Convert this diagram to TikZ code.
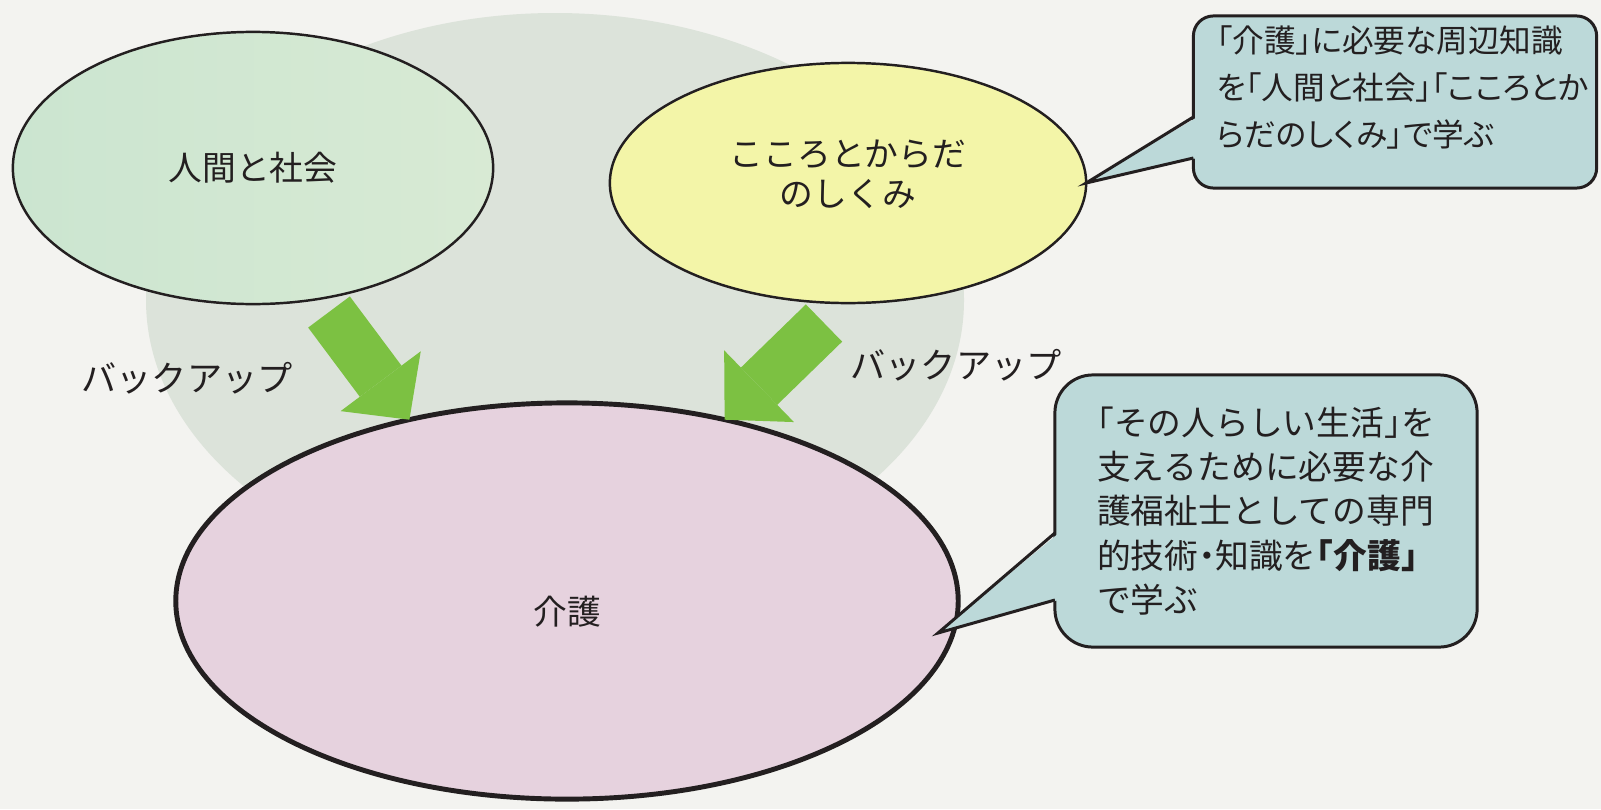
\documentclass[tikz,border=0pt]{standalone}
\usepackage{fontspec}
\newfontfamily\jpfont{Noto Sans CJK JP}
\newfontfamily\jpnote{Noto Sans CJK JP}[RawFeature=+halt]
\newfontfamily\jpprop{Noto Sans CJK JP}[RawFeature=+palt]
\usetikzlibrary{arrows.meta,shapes.geometric,positioning}

\definecolor{paper}{HTML}{F3F3F0}
\definecolor{backdrop}{HTML}{DCE3DA}
\definecolor{ink}{HTML}{231F20}
\definecolor{societyL}{HTML}{CBE5D0}
\definecolor{societyM}{HTML}{B7D9D1}
\definecolor{societyR}{HTML}{D8EAD4}
\definecolor{mindfill}{HTML}{F3F5A8}
\definecolor{carefill}{HTML}{E6D2DE}
\definecolor{notefill}{HTML}{BCD9D9}
\definecolor{leafgreen}{HTML}{7CC142}

\begin{document}
\begin{tikzpicture}[x=0.01cm,y=-0.01cm,
    topic/.style={ellipse,draw=ink,line width=0.7pt,inner sep=0pt,outer sep=0pt,
      align=center,text=ink,font=\jpfont\fontsize{9.6pt}{11.2pt}\selectfont},
    note/.style={rectangle,draw=ink,line width=0.85pt,fill=notefill,align=left,
      inner sep=0pt,outer sep=0pt,text=ink},
    pointer/.style={draw=ink,line width=0.85pt,line join=miter},
    backup/.style={draw=leafgreen,line width=0.52cm,
      -{Triangle[length=0.48cm,width=1cm,line width=0pt]}},
    tag/.style={text=ink,font=\jpfont\fontsize{10pt}{12pt}\selectfont}]
  \useasboundingbox (0,0) rectangle (1601,809);
  % paper and grey backdrop
  \fill[paper] (0,0) rectangle (1601,809);
  \fill[backdrop] (555,300) ellipse [x radius=409, y radius=287];

  \node[topic,shade,left color=societyL,middle color=societyM,right color=societyR,
    minimum width=4.8cm,minimum height=2.72cm] (society) at (253,168) {人間と社会};
  \node[topic,fill=mindfill,minimum width=4.76cm,minimum height=2.4cm,
    text depth=0.2cm] (mind) at (848,183) {こころとからだ\\のしくみ};
  \node[topic,fill=carefill,line width=1.4pt,minimum width=7.82cm,minimum height=3.96cm,
    text height=0.5cm] (care) at (567,601) {介護};

  % backup arrows
  \coordinate (tailL) at (329,312);
  \coordinate (tailR) at (824,323);
  \draw[backup] (tailL) -- (care.131);
  \draw[backup] (tailR) -- (care.49);
  \node[tag] (backupL) at (187,378) {バックアップ};
  \node[tag] (backupR) at (956,365) {バックアップ};

  % notes
  \node[note,minimum width=4.03cm,minimum height=1.72cm,rounded corners=0.2cm]
    (noteA) at (1395,102) {};
  \node[anchor=north west,align=left,inner sep=0pt,text=ink,
    font=\jpprop\fontsize{9pt}{13.4pt}\selectfont] (noteAtext) at (1216,25)
    {「介護」に必要な周辺知識\\を「人間と社会」「こころとか\\らだのしくみ」で学ぶ};
  \fill[notefill] ([shift={(4,15)}]noteA.west) -- (mind.east)
    -- ([shift={(4,56)}]noteA.west) -- cycle;
  \draw[pointer] ([shift={(0,15)}]noteA.west) -- (mind.east)
    -- ([shift={(0,56)}]noteA.west);

  \node[note,minimum width=4.22cm,minimum height=2.72cm,rounded corners=0.38cm,
    font=\jpnote\fontsize{9.6pt}{12.6pt}\selectfont] (noteB) at (1266,511)
    {「その人らしい生活」を\\支えるために必要な介\\護福祉士としての専門\\
     的技術・知識を\textbf{「介護」}\\で学ぶ};
  \coordinate (tipB) at (938,633);
  \fill[notefill] ([shift={(4,22)}]noteB.west) -- (tipB)
    -- ([shift={(4,89)}]noteB.west) -- cycle;
  \draw[pointer] ([shift={(0,22)}]noteB.west) -- (tipB)
    -- ([shift={(0,89)}]noteB.west);
\end{tikzpicture}
\end{document}
